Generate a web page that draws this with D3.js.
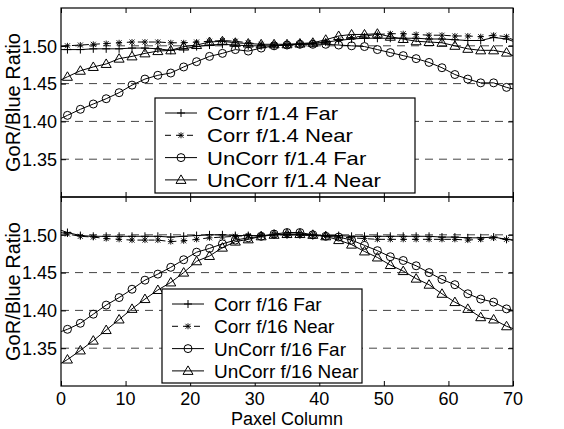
<!DOCTYPE html>
<html>
<head>
<meta charset="utf-8">
<script src="https://cdn.jsdelivr.net/npm/d3@7"></script>
<style>
  body { margin: 0; background: #fff; }
  svg { font-family: "Liberation Sans", Arial, sans-serif; }
</style>
</head>
<body>
<div id="chart"></div>
<script>

// pixel columns (markers sit on the odd ones)
var columns = [0, 1, 3, 5, 7, 9, 11, 13, 15, 17, 19, 21, 23, 25, 27, 29, 31, 33, 35, 37, 39,
               41, 43, 45, 47, 49, 51, 53, 55, 57, 59, 61, 63, 65, 67, 69, 70];

var xTicks = [0, 10, 20, 30, 40, 50, 60, 70];
var yTicks = [1.35, 1.40, 1.45, 1.50];

// f/1.4 panel
var corrFar14 = [1.495,
  1.495, 1.495, 1.496, 1.496, 1.496, 1.497, 1.497, 1.496, 1.494, 1.496,
  1.499, 1.501, 1.502, 1.501, 1.500, 1.500, 1.500, 1.501, 1.502, 1.503,
  1.505, 1.507, 1.509, 1.510, 1.510, 1.510, 1.510, 1.510, 1.509, 1.509,
  1.508, 1.507, 1.507, 1.511, 1.509, 1.506];
var corrNear14 = [1.499,
  1.500, 1.501, 1.502, 1.503, 1.504, 1.505, 1.505, 1.505, 1.504, 1.504,
  1.505, 1.506, 1.507, 1.506, 1.504, 1.502, 1.501, 1.501, 1.502, 1.503,
  1.505, 1.508, 1.511, 1.513, 1.515, 1.516, 1.516, 1.515, 1.514, 1.514,
  1.513, 1.513, 1.512, 1.514, 1.512, 1.508];
var unCorrFar14 = [1.404,
  1.408, 1.416, 1.423, 1.430, 1.438, 1.448, 1.456, 1.461, 1.464, 1.472,
  1.479, 1.486, 1.490, 1.495, 1.493, 1.497, 1.500, 1.501, 1.502, 1.502,
  1.502, 1.501, 1.500, 1.499, 1.495, 1.491, 1.487, 1.483, 1.478, 1.471,
  1.462, 1.456, 1.451, 1.451, 1.445, 1.443];
var unCorrNear14 = [1.455,
  1.459, 1.467, 1.472, 1.476, 1.483, 1.486, 1.490, 1.493, 1.494, 1.499,
  1.501, 1.505, 1.506, 1.504, 1.503, 1.502, 1.502, 1.502, 1.503, 1.504,
  1.508, 1.513, 1.515, 1.515, 1.516, 1.512, 1.509, 1.506, 1.505, 1.504,
  1.500, 1.496, 1.494, 1.494, 1.491, 1.487];

// f/16 panel
var corrFar16 = [1.506,
  1.503, 1.499, 1.498, 1.498, 1.498, 1.498, 1.498, 1.498, 1.497, 1.498,
  1.499, 1.500, 1.500, 1.499, 1.499, 1.499, 1.500, 1.500, 1.500, 1.499,
  1.499, 1.499, 1.498, 1.498, 1.498, 1.498, 1.498, 1.498, 1.498, 1.497,
  1.497, 1.496, 1.496, 1.497, 1.494, 1.493];
var corrNear16 = [1.503,
  1.501, 1.498, 1.497, 1.495, 1.494, 1.493, 1.493, 1.493, 1.491, 1.492,
  1.494, 1.496, 1.497, 1.498, 1.499, 1.499, 1.500, 1.500, 1.500, 1.499,
  1.498, 1.497, 1.496, 1.495, 1.494, 1.494, 1.494, 1.494, 1.494, 1.494,
  1.494, 1.493, 1.494, 1.496, 1.494, 1.493];
var unCorrFar16 = [1.372,
  1.375, 1.383, 1.395, 1.407, 1.417, 1.428, 1.440, 1.448, 1.457, 1.467,
  1.477, 1.482, 1.488, 1.493, 1.496, 1.498, 1.501, 1.503, 1.503, 1.500,
  1.498, 1.497, 1.493, 1.486, 1.479, 1.471, 1.466, 1.459, 1.450, 1.441,
  1.434, 1.422, 1.415, 1.411, 1.402, 1.400];
var unCorrNear16 = [1.330,
  1.335, 1.347, 1.360, 1.374, 1.388, 1.402, 1.415, 1.427, 1.437, 1.450,
  1.465, 1.472, 1.483, 1.491, 1.494, 1.498, 1.500, 1.501, 1.501, 1.500,
  1.498, 1.493, 1.487, 1.478, 1.470, 1.460, 1.452, 1.442, 1.434, 1.422,
  1.411, 1.402, 1.391, 1.388, 1.379, 1.376];

var panels = [
  { top: 8, bottom: 197, legend: { x: 155, y: 98, w: 260, h: 95, stretch: 1.16 },
    series: [
      { name: 'Corr f/1.4 Far', values: corrFar14, marker: 'plus', dash: null },
      { name: 'Corr f/1.4 Near', values: corrNear14, marker: 'star', dash: '6,5' },
      { name: 'UnCorr f/1.4 Far', values: unCorrFar14, marker: 'circle', dash: null },
      { name: 'UnCorr f/1.4 Near', values: unCorrNear14, marker: 'triangle', dash: null }
    ] },
  { top: 197, bottom: 386, legend: { x: 162, y: 289, w: 200, h: 94, stretch: 1 },
    series: [
      { name: 'Corr f/16 Far', values: corrFar16, marker: 'plus', dash: null },
      { name: 'Corr f/16 Near', values: corrNear16, marker: 'star', dash: '6,5' },
      { name: 'UnCorr f/16 Far', values: unCorrFar16, marker: 'circle', dash: null },
      { name: 'UnCorr f/16 Near', values: unCorrNear16, marker: 'triangle', dash: null }
    ] }
];

var width = 564, height = 429;
var left = 61, right = 513;

var svg = d3.select('#chart').append('svg')
    .attr('width', width)
    .attr('height', height);

var x = d3.scaleLinear().domain([0, 70]).range([left, right]);

function drawMarker(g, type, cx, cy) {
  if (type === 'plus') {
    g.append('path').attr('d', `M${cx-4},${cy}H${cx+4}M${cx},${cy-4}V${cy+4}`)
      .attr('stroke', '#000').attr('stroke-width', 1);
  } else if (type === 'star') {
    g.append('path').attr('d', `M${cx-3},${cy}H${cx+3}M${cx},${cy-3}V${cy+3}M${cx-2.5},${cy-2.5}L${cx+2.5},${cy+2.5}M${cx-2.5},${cy+2.5}L${cx+2.5},${cy-2.5}`)
      .attr('stroke', '#000').attr('stroke-width', 0.9);
  } else if (type === 'circle') {
    g.append('circle').attr('cx', cx).attr('cy', cy).attr('r', 4)
      .attr('fill', 'none').attr('stroke', '#000').attr('stroke-width', 1);
  } else if (type === 'triangle') {
    g.append('path').attr('d', `M${cx},${cy-5}L${cx+5},${cy+3.5}L${cx-5},${cy+3.5}Z`)
      .attr('fill', 'none').attr('stroke', '#000').attr('stroke-width', 1);
  }
}

panels.forEach(function(p) {

  var y = d3.scaleLinear().domain([1.30, 1.55]).range([p.bottom, p.top]);
  var g = svg.append('g');

  // dashed grid
  g.selectAll('line.grid')
    .data(yTicks)
    .enter().append('line')
    .attr('class', 'grid')
    .attr('x1', left).attr('x2', right)
    .attr('y1', d => y(d)).attr('y2', d => y(d))
    .attr('stroke', '#444')
    .attr('stroke-dasharray', '8,6');

  // inner ticks
  g.append('g')
    .attr('transform', `translate(0,${p.bottom})`)
    .call(d3.axisBottom(x).tickValues(xTicks).tickSize(-5).tickFormat(''))
    .call(a => a.select('.domain').remove());
  g.append('g')
    .attr('transform', `translate(0,${p.top})`)
    .call(d3.axisTop(x).tickValues(xTicks).tickSize(-5).tickFormat(''))
    .call(a => a.select('.domain').remove());
  g.append('g')
    .attr('transform', `translate(${right},0)`)
    .call(d3.axisRight(y).tickValues(yTicks).tickSize(-5).tickFormat(''))
    .call(a => a.select('.domain').remove());

  var yAxis = g.append('g')
    .attr('transform', `translate(${left},0)`)
    .call(d3.axisLeft(y).tickValues(yTicks).tickSize(-5).tickPadding(4).tickFormat(d3.format('.2f')));
  yAxis.select('.domain').remove();
  yAxis.attr('font-size', 18).attr('font-family', null);
  yAxis.selectAll('text').attr('fill', '#000').attr('dy', '0.35em');

  // series
  var line = d3.line()
    .x((d, i) => x(columns[i]))
    .y(d => y(d));

  p.series.forEach(function(s) {
    g.append('path')
      .attr('d', line(s.values))
      .attr('fill', 'none')
      .attr('stroke', '#000')
      .attr('stroke-width', 1)
      .attr('stroke-dasharray', s.dash);
    var mg = g.append('g');
    s.values.forEach(function(v, i) {
      if (columns[i] % 2 === 1) drawMarker(mg, s.marker, x(columns[i]), y(v));
    });
  });

  // frame
  g.append('rect')
    .attr('x', left).attr('y', p.top)
    .attr('width', right - left).attr('height', p.bottom - p.top)
    .attr('fill', 'none').attr('stroke', '#000').attr('stroke-width', 1.2);

  // y label
  g.append('text')
    .attr('transform', `translate(20,${(p.top + p.bottom) / 2}) rotate(-90)`)
    .attr('text-anchor', 'middle')
    .attr('font-size', 20)
    .text('GoR/Blue Ratio');

  // legend
  var L = p.legend;
  var lg = g.append('g');
  lg.append('rect')
    .attr('x', L.x).attr('y', L.y)
    .attr('width', L.w).attr('height', L.h)
    .attr('fill', '#fff').attr('stroke', '#000').attr('stroke-width', 1.2);
  p.series.forEach(function(s, i) {
    var ry = L.y + 15 + i * 22.3;
    lg.append('line')
      .attr('x1', L.x + 10).attr('x2', L.x + 42)
      .attr('y1', ry).attr('y2', ry)
      .attr('stroke', '#000')
      .attr('stroke-dasharray', s.dash);
    drawMarker(lg, s.marker, L.x + 26, ry);
    var t = lg.append('text')
      .attr('x', L.x + 52).attr('y', ry + 7)
      .attr('font-size', 19)
      .text(s.name);
    if (L.stretch !== 1) {
      var len = t.node().getComputedTextLength();
      t.attr('textLength', len * L.stretch).attr('lengthAdjust', 'spacingAndGlyphs');
    }
  });
});

// x axis labels under bottom panel
svg.append('g')
  .selectAll('text')
  .data(xTicks)
  .enter().append('text')
  .attr('x', d => x(d))
  .attr('y', 405)
  .attr('text-anchor', 'middle')
  .attr('font-size', 18)
  .text(d => d);

svg.append('text')
  .attr('x', (left + right) / 2)
  .attr('y', 425)
  .attr('text-anchor', 'middle')
  .attr('font-size', 18)
  .text('Paxel Column');

</script>
</body>
</html>
